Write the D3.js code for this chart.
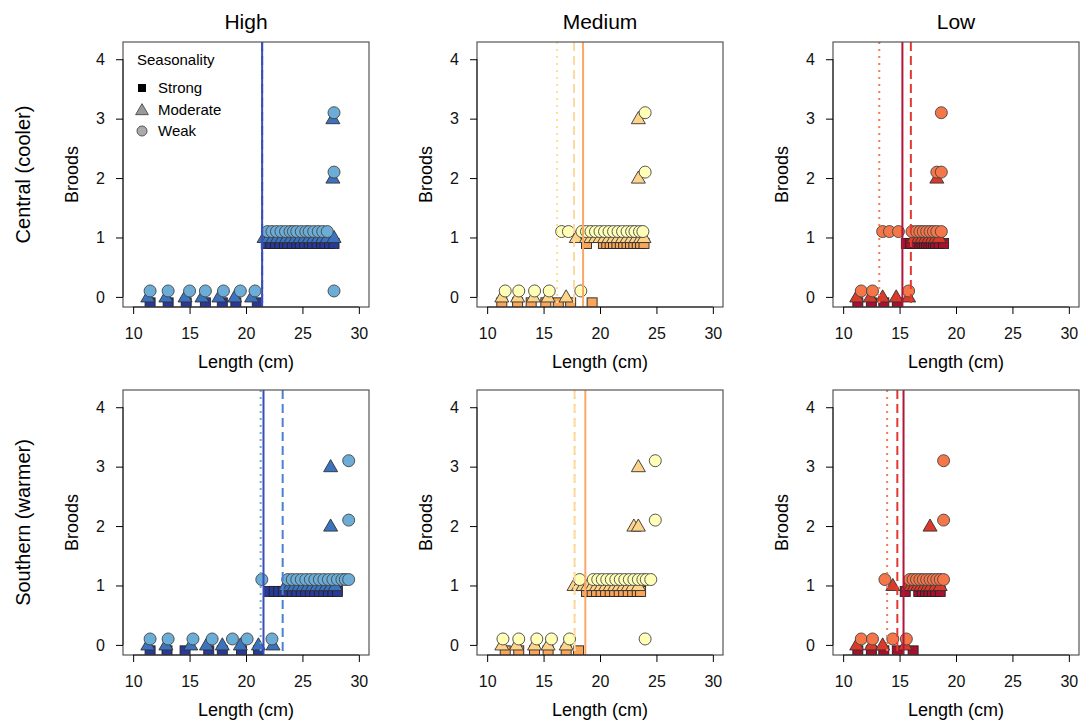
<!DOCTYPE html>
<html><head><meta charset="utf-8">
<script src="https://cdn.jsdelivr.net/npm/d3@7"></script>
<style>body{margin:0;background:#fff}svg{display:block;font-family:"Liberation Sans",Arial,sans-serif}</style>
</head><body>
<svg id="c" width="1086" height="727"></svg>
<script>
// ---------- data ----------
const columns = ["High", "Medium", "Low"];
const rows = ["Central (cooler)", "Southern (warmer)"];
const seasonality = ["Strong", "Moderate", "Weak"];
const xTicks = [10, 15, 20, 25, 30];
const yTicks = [0, 1, 2, 3, 4];

// each series: [length, broods]
const hcStrong = [[11.5,0],[13.1,0],[14.7,0],[16.4,0],[17.9,0],[19.1,0],[21.0,0],
  [21.8,1],[22.2,1],[22.6,1],[23.0,1],[23.4,1],[23.7,1],[24.1,1],[24.5,1],[24.8,1],[25.2,1],[25.6,1],[25.9,1],[26.3,1],[26.7,1],[27.0,1],[27.4,1],[27.8,1]];
const hcModerate = [[11.3,0],[12.9,0],[14.6,0],[16.1,0],[17.6,0],[19.0,0],[20.5,0],
  [21.6,1],[22.0,1],[22.4,1],[22.8,1],[23.2,1],[23.6,1],[24.0,1],[24.4,1],[24.8,1],[25.2,1],[25.6,1],[26.0,1],[26.4,1],[26.8,1],[27.2,1],[27.8,1],[27.7,2],[27.7,3]];
const hcWeak = [[11.5,0],[13.1,0],[15.0,0],[16.4,0],[18.0,0],[19.5,0],[20.8,0],[27.8,0],
  [21.9,1],[22.3,1],[22.7,1],[23.1,1],[23.5,1],[23.9,1],[24.2,1],[24.5,1],[24.9,1],[25.3,1],[25.6,1],[26.0,1],[26.4,1],[26.8,1],[27.2,1],[27.8,2],[27.8,3]];

const mcStrong = [[11.3,0],[12.7,0],[13.9,0],[15.2,0],[16.3,0],[17.4,0],[19.3,0],
  [18.8,1],[20.3,1],[20.6,1],[20.9,1],[21.2,1],[21.5,1],[21.8,1],[22.1,1],[22.4,1],[22.7,1],[23.0,1],[23.3,1],[23.6,1],[23.9,1]];
const mcModerate = [[11.3,0],[12.7,0],[14.1,0],[15.4,0],[17.0,0],
  [17.9,1],[18.8,1],[19.2,1],[19.6,1],[20.0,1],[20.4,1],[20.8,1],[21.2,1],[21.6,1],[22.0,1],[22.4,1],[22.8,1],[23.2,1],[23.6,1],[23.9,1],[23.4,2],[23.4,3]];
const mcWeak = [[11.6,0],[12.8,0],[14.2,0],[15.5,0],[18.3,0],
  [16.6,1],[17.2,1],[18.4,1],[18.8,1],[19.2,1],[19.6,1],[20.0,1],[20.4,1],[20.8,1],[21.2,1],[21.6,1],[22.0,1],[22.4,1],[22.8,1],[23.1,1],[23.5,1],[23.8,1],[24.0,2],[24.0,3]];

const lcStrong = [[11.3,0],[12.5,0],[13.6,0],[14.8,0],
  [15.6,1],[16.0,1],[16.4,1],[16.8,1],[17.0,1],[17.2,1],[17.4,1],[17.6,1],[17.8,1],[18.0,1],[18.2,1],[18.5,1],[18.9,1]];
const lcModerate = [[11.2,0],[12.4,0],[13.5,0],[14.7,0],[15.8,0],
  [16.3,1],[16.7,1],[17.0,1],[17.3,1],[17.6,1],[17.9,1],[18.2,1],[18.5,1],[18.3,2]];
const lcWeak = [[11.6,0],[12.6,0],[15.8,0],
  [13.5,1],[14.1,1],[14.9,1],[16.1,1],[16.5,1],[16.8,1],[17.1,1],[17.4,1],[17.7,1],[18.0,1],[18.3,1],[18.7,1],[18.3,2],[18.7,2],[18.7,3]];

const hsStrong = [[11.5,0],[13.0,0],[14.6,0],[16.7,0],[17.9,0],[19.6,0],[21.1,0],
  [22.0,1],[22.5,1],[22.9,1],[23.3,1],[23.7,1],[24.1,1],[24.5,1],[24.9,1],[25.3,1],[25.7,1],[26.1,1],[26.5,1],[26.9,1],[27.3,1],[27.7,1],[28.1,1]];
const hsModerate = [[11.3,0],[12.9,0],[15.1,0],[16.5,0],[17.9,0],[19.5,0],[21.1,0],[22.4,0],
  [23.5,1],[23.9,1],[24.3,1],[24.7,1],[25.1,1],[25.5,1],[25.9,1],[26.3,1],[26.7,1],[27.1,1],[27.5,1],[27.9,1],[27.5,2],[27.5,3]];
const hsWeak = [[11.5,0],[13.1,0],[15.3,0],[17.0,0],[18.8,0],[20.1,0],[22.3,0],
  [21.4,1],[23.7,1],[24.1,1],[24.5,1],[24.9,1],[25.3,1],[25.7,1],[26.1,1],[26.5,1],[26.9,1],[27.3,1],[27.7,1],[28.1,1],[28.5,1],[28.8,1],[29.1,1],[29.1,2],[29.1,3]];

const msStrong = [[11.6,0],[12.8,0],[14.2,0],[15.4,0],[17.0,0],[18.1,0],
  [18.8,1],[19.3,1],[19.7,1],[20.1,1],[20.5,1],[20.9,1],[21.3,1],[21.7,1],[22.1,1],[22.5,1],[22.9,1],[23.3,1],[23.6,1]];
const msModerate = [[11.3,0],[12.6,0],[14.2,0],[15.4,0],[17.0,0],
  [17.7,1],[18.1,1],[18.5,1],[18.9,1],[19.3,1],[19.7,1],[20.1,1],[20.5,1],[20.9,1],[21.3,1],[21.7,1],[22.1,1],[22.5,1],[22.9,1],[23.4,1],[23.0,2],[23.4,2],[23.4,3]];
const msWeak = [[11.4,0],[12.8,0],[14.4,0],[15.7,0],[17.3,0],[24.0,0],
  [18.2,1],[19.4,1],[19.8,1],[20.2,1],[20.6,1],[21.0,1],[21.4,1],[21.8,1],[22.2,1],[22.6,1],[23.0,1],[23.4,1],[23.8,1],[24.1,1],[24.5,1],[24.9,2],[24.9,3]];

const lsStrong = [[11.3,0],[12.5,0],[13.6,0],[14.8,0],[16.2,0],
  [15.5,1],[16.7,1],[17.0,1],[17.3,1],[17.6,1],[17.9,1],[18.2,1],[18.6,1]];
const lsModerate = [[11.2,0],[12.5,0],[13.5,0],[15.5,0],
  [14.4,1],[15.7,1],[16.0,1],[16.3,1],[16.6,1],[16.9,1],[17.2,1],[17.5,1],[17.8,1],[18.2,1],[18.6,1],[17.7,2]];
const lsWeak = [[11.6,0],[12.6,0],[14.4,0],[15.6,0],
  [13.7,1],[15.9,1],[16.2,1],[16.5,1],[16.8,1],[17.1,1],[17.4,1],[17.7,1],[18.0,1],[18.3,1],[18.6,1],[18.9,1],[18.9,2],[18.9,3]];

// thresholds [strong, moderate, weak]
const hcThresh = [21.43, 21.43, 21.43];
const mcThresh = [18.5, 17.7, 16.2];
const lcThresh = [15.25, 16.0, 13.2];
const hsThresh = [21.55, 23.25, 21.3];
const msThresh = [18.7, 17.75, 17.75];
const lsThresh = [15.35, 14.8, 13.9];

// colours per column: [strong, moderate, weak]
const highColors = ["#29399a", "#3b73bf", "#6badd6"];
const mediumColors = ["#f9a55a", "#fdd48a", "#ffffb8"];
const lowColors = ["#a8102e", "#da3a2a", "#f47649"];
const highLineColors = ["#3a4db8", "#4a82d2", "#6badd6"];
const mediumLineColors = ["#f9a868", "#fdd9a0", "#fde08c"];
const lowLineColors = ["#b0163a", "#e33a30", "#f67a52"];

const panels = [
  {row:0, col:0, s:[hcStrong,hcModerate,hcWeak], t:hcThresh, c:highColors, lc:highLineColors},
  {row:0, col:1, s:[mcStrong,mcModerate,mcWeak], t:mcThresh, c:mediumColors, lc:mediumLineColors},
  {row:0, col:2, s:[lcStrong,lcModerate,lcWeak], t:lcThresh, c:lowColors, lc:lowLineColors},
  {row:1, col:0, s:[hsStrong,hsModerate,hsWeak], t:hsThresh, c:highColors, lc:highLineColors},
  {row:1, col:1, s:[msStrong,msModerate,msWeak], t:msThresh, c:mediumColors, lc:mediumLineColors},
  {row:1, col:2, s:[lsStrong,lsModerate,lsWeak], t:lsThresh, c:lowColors, lc:lowLineColors}
];

// ---------- layout ----------
const svg = d3.select("#c");
const colLeft = [123, 477, 833];
const rowTop = [42, 390];
const pw = 246, ph = 265;
const x = d3.scaleLinear().domain([9.1, 30.9]).range([0, pw]);
const y = d3.scaleLinear().domain([-0.17, 4.29]).range([ph, 0]);
const yOffset = [-0.1, 0, 0.1];
const dashes = [null, "9,5", "2,5"];
const tri = d3.symbol().type(d3.symbolTriangle).size(85);
const FONT = '"Liberation Sans",Arial,sans-serif';

columns.forEach((c, i) => {
  svg.append("text").attr("x", colLeft[i] + pw/2).attr("y", 29)
    .attr("text-anchor", "middle").attr("font-size", 21).text(c);
});
rows.forEach((r, i) => {
  svg.append("text").attr("transform", `translate(30,${rowTop[i] + ph/2}) rotate(-90)`)
    .attr("text-anchor", "middle").attr("font-size", 20).text(r);
});

panels.forEach((p, pi) => {
  const g = svg.append("g").attr("transform", `translate(${colLeft[p.col]},${rowTop[p.row]})`);
  const cid = "clip" + pi;
  g.append("clipPath").attr("id", cid).append("rect").attr("width", pw).attr("height", ph);
  const inner = g.append("g").attr("clip-path", `url(#${cid})`);

  // strong squares
  inner.selectAll("rect.sq").data(p.s[0]).join("rect")
    .attr("x", d => x(d[0]) - 5).attr("y", d => y(d[1] + yOffset[0]) - 5)
    .attr("width", 10).attr("height", 10)
    .attr("fill", p.c[0]).attr("stroke", "#222").attr("stroke-width", 0.9);
  // moderate triangles
  inner.selectAll("path.tr").data(p.s[1]).join("path")
    .attr("d", tri)
    .attr("transform", d => `translate(${x(d[0])},${y(d[1] + yOffset[1]) + 1})`)
    .attr("fill", p.c[1]).attr("stroke", "#333").attr("stroke-width", 0.9);
  // weak circles
  inner.selectAll("circle").data(p.s[2]).join("circle")
    .attr("cx", d => x(d[0])).attr("cy", d => y(d[1] + yOffset[2])).attr("r", 6)
    .attr("fill", p.c[2]).attr("stroke", "#444").attr("stroke-width", 0.9);

  // threshold lines (weak, moderate, strong order)
  [2, 1, 0].forEach(k => {
    inner.append("line").attr("x1", x(p.t[k])).attr("x2", x(p.t[k]))
      .attr("y1", 0).attr("y2", ph)
      .attr("stroke", p.lc[k]).attr("stroke-width", 2)
      .attr("stroke-dasharray", dashes[k]);
  });

  // box
  g.append("rect").attr("width", pw).attr("height", ph)
    .attr("fill", "none").attr("stroke", "#555").attr("stroke-width", 1.2);

  // axes
  const xa = g.append("g").attr("transform", `translate(0,${ph})`)
    .call(d3.axisBottom(x).tickValues(xTicks).tickFormat(d3.format("d")).tickSize(7).tickPadding(14).tickSizeOuter(0));
  xa.select(".domain").attr("d", `M${x(10)},0H${x(30)}`).attr("stroke", "#222");
  xa.selectAll("text").attr("font-size", 16).attr("fill", "#111").attr("font-family", FONT);
  const ya = g.append("g")
    .call(d3.axisLeft(y).tickValues(yTicks).tickFormat(d3.format("d")).tickSize(7).tickPadding(11).tickSizeOuter(0));
  ya.select(".domain").attr("d", `M0,${y(0)}V${y(4)}`).attr("stroke", "#222");
  ya.selectAll("text").attr("font-size", 16).attr("fill", "#111").attr("font-family", FONT);

  g.append("text").attr("x", pw/2).attr("y", ph + 61).attr("text-anchor", "middle")
    .attr("font-size", 18).text("Length (cm)");
  g.append("text").attr("transform", `translate(-45,${ph/2}) rotate(-90)`)
    .attr("text-anchor", "middle").attr("font-size", 18).text("Broods");
});

// legend in first panel
const lg = svg.append("g").attr("transform", `translate(${colLeft[0]},${rowTop[0]})`);
lg.append("text").attr("x", 14).attr("y", 23).attr("font-size", 15).text("Seasonality");
const legY = [46, 68, 89];
lg.append("rect").attr("x", 15).attr("y", legY[0] - 4).attr("width", 8).attr("height", 8).attr("fill", "#000");
lg.append("path").attr("d", d3.symbol().type(d3.symbolTriangle).size(70))
  .attr("transform", `translate(19,${legY[1] + 1})`).attr("fill", "#9a9a9a").attr("stroke", "#555");
lg.append("circle").attr("cx", 19).attr("cy", legY[2]).attr("r", 5).attr("fill", "#aaa").attr("stroke", "#555");
seasonality.forEach((s, i) => {
  lg.append("text").attr("x", 35).attr("y", legY[i] + 5).attr("font-size", 15).text(s);
});
</script>
</body></html>
